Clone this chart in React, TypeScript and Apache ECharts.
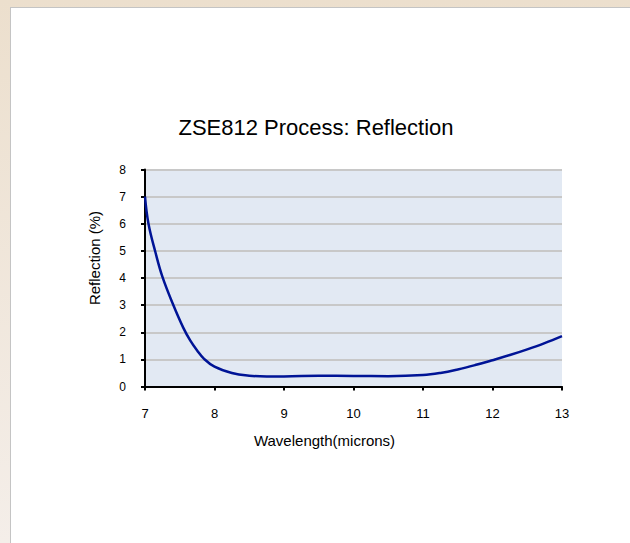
import React, { useEffect, useRef } from "react";
import * as echarts from "echarts";

const wavelengths = [7, 7.05, 7.15, 7.25, 7.4, 7.55, 7.65, 7.75, 7.85, 8, 8.25, 8.5, 8.75, 9, 9.5, 10, 10.5, 11, 11.25, 11.5, 11.75, 12, 12.25, 12.5, 12.75, 13];
const reflection = [7.0, 6.0, 4.95, 4.05, 3.05, 2.17, 1.7, 1.33, 1.02, 0.73, 0.5, 0.4, 0.37, 0.37, 0.4, 0.39, 0.38, 0.42, 0.5, 0.63, 0.79, 0.97, 1.16, 1.37, 1.6, 1.86];

const titleText = "ZSE812 Process: Reflection";
const xName = "Wavelength(microns)";
const yName = "Reflection (%)";

export default function App() {
  const ref = useRef<HTMLDivElement>(null);
  useEffect(() => {
    if (!ref.current) return;
    const chart = echarts.init(ref.current, undefined, { renderer: "svg" });
    const font = "Arial, 'Liberation Sans', sans-serif";
    chart.setOption({
      animation: false,
      backgroundColor: "transparent",
      title: {
        text: titleText,
        left: 311,
        top: 111,
        textAlign: "center",
        textStyle: { fontFamily: font, fontSize: 22, fontWeight: "normal", color: "#000" },
      },
      grid: {
        left: 145,
        right: 68,
        top: 169.5,
        bottom: 156.5,
        show: true,
        backgroundColor: "#e2e9f3",
        borderWidth: 0,
      },
      xAxis: {
        type: "value",
        min: 7,
        max: 13,
        interval: 1,
        name: xName,
        nameLocation: "middle",
        nameGap: 46,
        nameTextStyle: { fontFamily: font, fontSize: 15, color: "#000", padding: [0, 58, 0, 0] },
        axisLine: { show: true, onZero: false, lineStyle: { color: "#000", width: 2 } },
        axisTick: { show: true, length: 4, lineStyle: { color: "#000", width: 2 } },
        axisLabel: { fontFamily: font, fontSize: 13, color: "#000", margin: 20 },
        splitLine: { show: false },
      },
      yAxis: {
        type: "value",
        min: 0,
        max: 8,
        interval: 1,
        name: yName,
        nameLocation: "middle",
        nameGap: 43,
        nameRotate: 90,
        nameTextStyle: { fontFamily: font, fontSize: 15, color: "#000", padding: [0, 0, 0, 40] },
        axisLine: { show: true, lineStyle: { color: "#000", width: 2 } },
        axisTick: { show: true, length: 4, lineStyle: { color: "#000", width: 2 } },
        axisLabel: { fontFamily: font, fontSize: 12, color: "#000", margin: 19 },
        splitLine: { show: true, lineStyle: { color: "#c8c8c8", width: 2 } },
      },
      series: [
        {
          type: "line",
          data: wavelengths.map((w, i) => [w, reflection[i]]),
          smooth: 0.4,
          showSymbol: false,
          lineStyle: { color: "#001496", width: 2.5 },
        },
      ],
    });
    return () => chart.dispose();
  }, []);

  return (
    <div
      style={{
        position: "fixed",
        left: 0,
        top: 0,
        width: 630,
        height: 543,
        background: "linear-gradient(to bottom, #ecdfcd, #f4eee9)",
        overflow: "hidden",
      }}
    >
      <div
        style={{
          position: "absolute",
          left: 10,
          top: 7,
          right: 0,
          bottom: 0,
          background: "#ffffff",
          borderLeft: "1px solid #c4c4c4",
          borderTop: "1px solid #c4c4c4",
        }}
      />
      <div ref={ref} style={{ position: "absolute", left: 0, top: 0, width: 630, height: 543 }} />
    </div>
  );
}
